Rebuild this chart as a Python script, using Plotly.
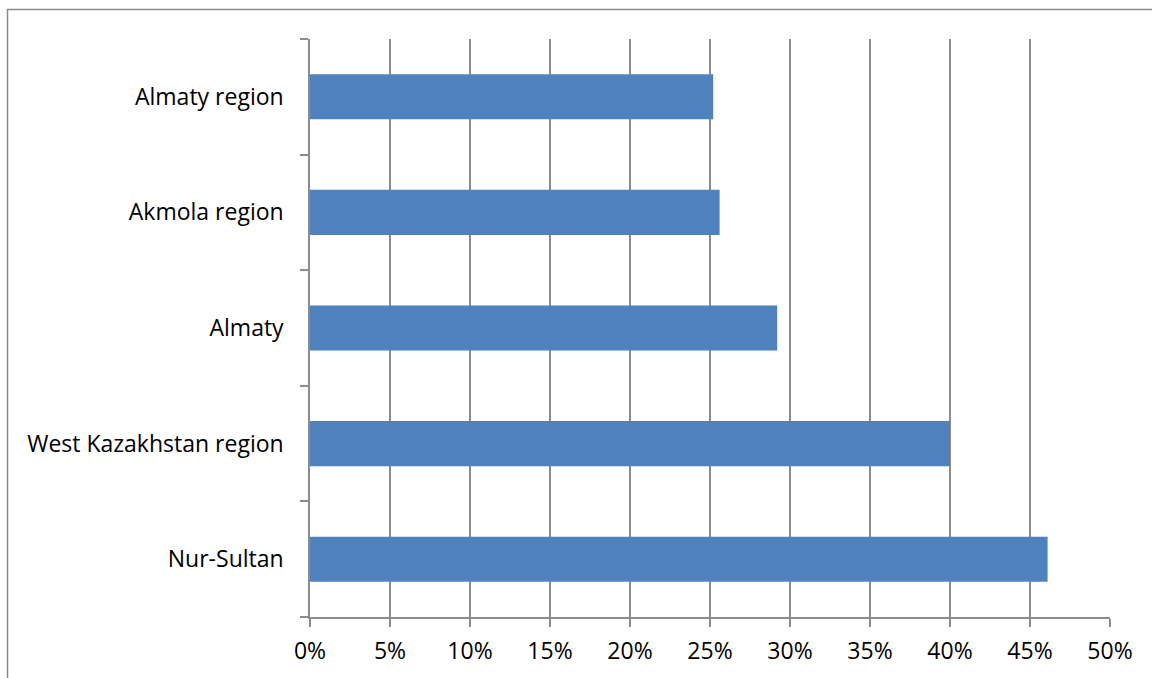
import plotly.graph_objects as go

categories = ["Nur-Sultan", "West Kazakhstan region", "Almaty", "Akmola region", "Almaty region"]
values = [46.1, 40.0, 29.2, 25.6, 25.2]
tick_vals = [0, 5, 10, 15, 20, 25, 30, 35, 40, 45, 50]
tick_text = [f"{v}%" for v in tick_vals]

grid = "#8c8c8c"
font = dict(family="Open Sans", size=23, color="#000000")

fig = go.Figure(go.Bar(
    x=values, y=categories, orientation="h",
    marker=dict(color="#4F81BD", line=dict(width=0)),
    width=0.39,
))

fig.update_layout(
    width=1152, height=678,
    margin=dict(l=310, r=42, t=39, b=61),
    plot_bgcolor="white", paper_bgcolor="white",
    showlegend=False,
    font=font,
    xaxis=dict(
        range=[0, 50], tickvals=tick_vals, ticktext=tick_text,
        showgrid=True, gridcolor=grid, gridwidth=1.5,
        showline=True, linecolor=grid, linewidth=1.5,
        ticks="outside", ticklen=8, tickcolor=grid, tickwidth=1.5,
        zeroline=False, ticklabelstandoff=5, tickfont=font,
    ),
    yaxis=dict(
        categoryorder="array", categoryarray=categories,
        showgrid=False, showline=True, linecolor=grid, linewidth=1.5,
        ticks="outside", tickson="boundaries", ticklen=8, tickcolor=grid, tickwidth=1.5,
        ticklabelstandoff=20, tickfont=font, zeroline=False,
    ),
    shapes=[dict(
        type="rect", xref="paper", yref="paper",
        x0=(7.5 - 310) / 800, x1=1.2,
        y0=-0.3, y1=1 + (39 - 9.5) / 578,
        line=dict(color="#8c8c8c", width=1.5), fillcolor="rgba(0,0,0,0)", layer="below",
    )],
)

fig.write_html("out.html")
